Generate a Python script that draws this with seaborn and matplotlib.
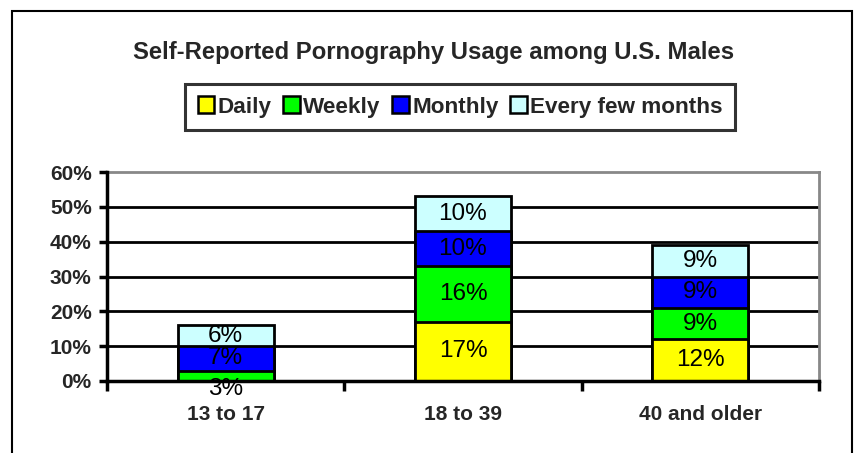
"""Stacked bar chart of self-reported usage frequency by age group."""

import matplotlib

matplotlib.use("Agg")

import pandas as pd
import seaborn as sns
from matplotlib import pyplot as plt
from matplotlib.patches import Patch, Rectangle

age_groups = ["13 to 17", "18 to 39", "40 and older"]
daily = [0, 17, 12]
weekly = [3, 16, 9]
monthly = [7, 10, 9]
every_few_months = [6, 10, 9]

series_names = ["Daily", "Weekly", "Monthly", "Every few months"]
series_colors = ["#FFFF00", "#00FF00", "#0000FF", "#CCFFFF"]
y_ticks = [0, 10, 20, 30, 40, 50, 60]

sns.set_style("white")
plt.rcParams["font.family"] = ["Liberation Sans", "DejaVu Sans"]

frame = pd.DataFrame(
    {
        "age": age_groups,
        "Daily": daily,
        "Weekly": weekly,
        "Monthly": monthly,
        "Every few months": every_few_months,
    }
)
cumulative = frame[series_names].cumsum(axis=1)
cumulative["age"] = frame["age"]

fig = plt.figure(figsize=(8.56, 4.53), dpi=100)
ax = fig.add_axes([107 / 856, 72 / 453, 712 / 856, 209 / 453])

# draw tallest cumulative bar first so lower segments overlay it
for name, color in reversed(list(zip(series_names, series_colors))):
    sns.barplot(
        data=cumulative,
        x="age",
        y=name,
        color=color,
        saturation=1,
        width=0.405,
        edgecolor="black",
        linewidth=2,
        ax=ax,
        zorder=3,
    )

# segment labels
for i in range(len(age_groups)):
    base = 0
    for name in series_names:
        value = frame.loc[i, name]
        if value > 0:
            y = base + value / 2
            if value < 4:
                y -= 3.8
            ax.text(i, y, f"{value}%", ha="center", va="center", fontsize=17.5, color="black", zorder=5)
        base += value

ax.set_ylim(0, 60)
ax.set_xlim(-0.5, 2.5)
ax.set_yticks(y_ticks)
ax.set_yticklabels([f"{t}%" for t in y_ticks], fontsize=15, fontweight="bold")
ax.set_xticks(range(len(age_groups)))
ax.set_xticklabels(age_groups, fontsize=15, fontweight="bold")
ax.set_xticks([-0.5, 0.5, 1.5, 2.5], minor=True)
ax.tick_params(axis="x", which="major", bottom=True, length=0, pad=17)
ax.tick_params(axis="x", which="minor", bottom=True, length=7, width=2.5, color="black", direction="out")
ax.tick_params(axis="y", left=True, length=6, width=2.5, color="black", direction="out", pad=5)
ax.set_xlabel("")
ax.set_ylabel("")

for t in y_ticks[1:-1]:
    ax.axhline(t, color="black", linewidth=2, zorder=1)

ax.spines["left"].set_color("black")
ax.spines["left"].set_linewidth(2.5)
ax.spines["bottom"].set_color("black")
ax.spines["bottom"].set_linewidth(2.5)
ax.spines["top"].set_color("#888888")
ax.spines["top"].set_linewidth(2)
ax.spines["right"].set_color("#888888")
ax.spines["right"].set_linewidth(2)
for side in ["left", "bottom"]:
    ax.spines[side].set_zorder(6)

fig.text(434 / 856, 1 - 52 / 453, "Self-Reported Pornography Usage among U.S. Males",
         ha="center", va="center", fontsize=17.2, fontweight="bold")

handles = [Patch(facecolor=c, edgecolor="black", linewidth=1.8, label=n)
           for n, c in zip(series_names, series_colors)]
legend = fig.legend(
    handles=handles,
    loc="center",
    bbox_to_anchor=(460 / 856, 1 - 107 / 453),
    ncol=4,
    frameon=True,
    fancybox=False,
    handlelength=0.75,
    handleheight=0.75,
    handletextpad=0.15,
    columnspacing=0.5,
    borderpad=0.55,
    borderaxespad=0,
    prop={"size": 16.2, "weight": "bold"},
)
legend.get_frame().set_edgecolor("black")
legend.get_frame().set_linewidth(2.2)

# outer chart border
fig.add_artist(Rectangle((12 / 856, -0.05), 840 / 856, 1 - 11 / 453 + 0.05,
                         transform=fig.transFigure, fill=False, linewidth=1.5,
                         edgecolor="black"))

fig.savefig("out.png", dpi=100)
plt.close(fig)
